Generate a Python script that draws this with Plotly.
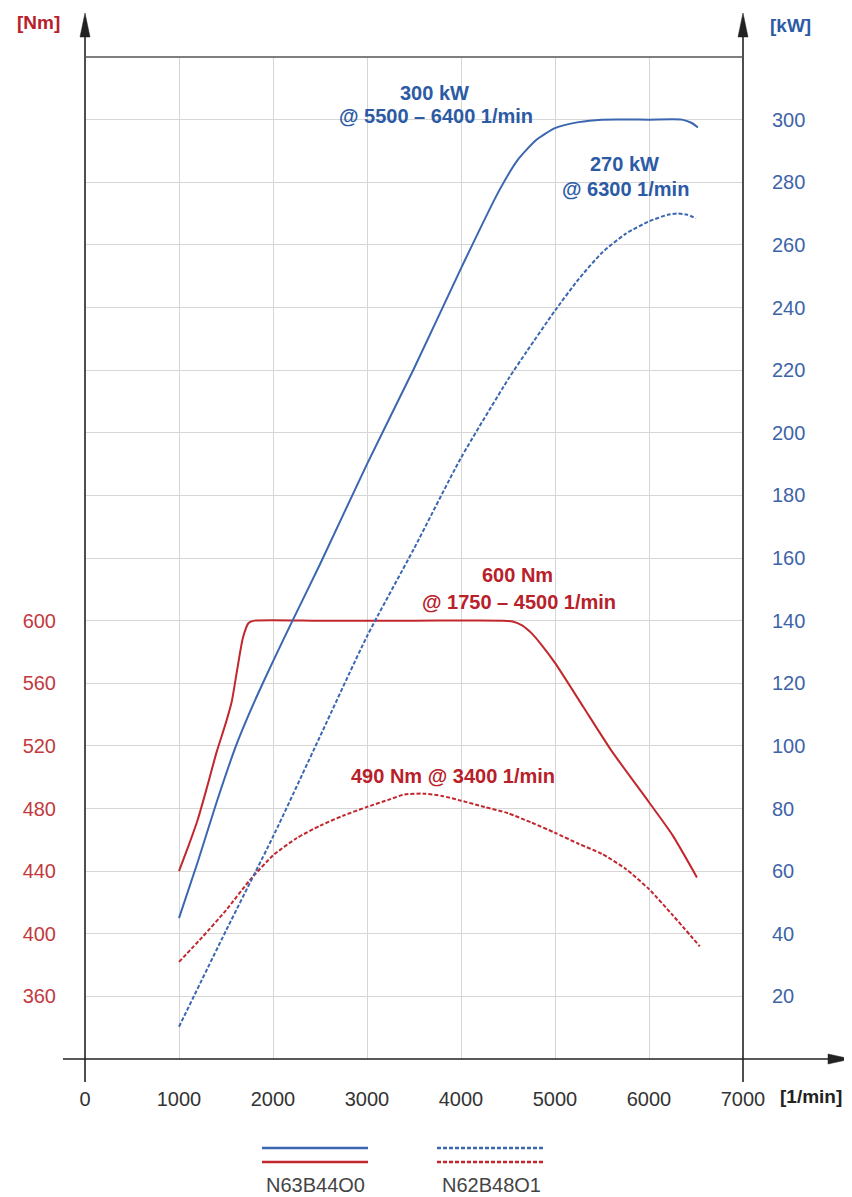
import plotly.graph_objects as go

# ---------------- data ----------------
rpm_tq_a = [1000, 1100, 1200, 1300, 1400, 1500, 1560, 1620, 1680, 1740, 1800, 2500, 3500,
            4450, 4550, 4650, 4750, 4850, 5000, 5300, 5600, 6000, 6250, 6510]
tq_a = [440, 456, 473, 494, 516, 535, 548, 569, 589, 598.5, 600, 600, 600,
        600, 599.5, 597, 592, 585, 573, 545, 517, 484, 463, 436]

rpm_pw_a = [1000, 1200, 1400, 1600, 1700, 1800, 2000, 2200, 2500, 3000, 3500, 4000, 4400, 4600,
            4800, 5000, 5250, 5500, 6000, 6350, 6450, 6520]
pw_a = [45, 63, 82, 99.5, 107, 114, 127, 139.5, 158, 190, 220.5, 252.5, 277, 287,
        293.5, 297.3, 299.2, 300, 300, 300, 299, 297.5]

rpm_tq_b = [1000, 1250, 1500, 1750, 2000, 2250, 2500, 2750, 3000, 3250, 3400, 3600, 3800,
            4000, 4250, 4500, 4750, 5000, 5250, 5500, 5750, 6000, 6250, 6540]
tq_b = [382, 398, 415, 434, 450, 461, 469, 475.5, 481, 486, 489, 489.5, 488,
        485, 481, 477, 471, 464.5, 457.5, 451, 441.5, 428.5, 412, 392]

rpm_pw_b = [1000, 1500, 2000, 2500, 3000, 3500, 4000, 4500, 4700, 5000, 5250, 5500, 5750,
            6000, 6200, 6300, 6400, 6500]
pw_b = [10.3, 41, 71, 103, 135, 163, 192, 217, 226, 239, 249, 257.5, 263.5,
        267.5, 269.6, 270, 269.7, 268.5]

x_ticks = [0, 1000, 2000, 3000, 4000, 5000, 6000, 7000]
nm_ticks = [360, 400, 440, 480, 520, 560, 600]
kw_ticks = [20, 40, 60, 80, 100, 120, 140, 160, 180, 200, 220, 240, 260, 280, 300]
engines = ["N63B44O0", "N62B48O1"]

RED = "#c1272d"
BLUE = "#3b66b0"
RED_T = "#c23a40"
BLUE_T = "#3e64a8"
FONT = "Liberation Sans, Arial, sans-serif"

# page has an 8px body margin; compensate so the plot sits where the reference has it
OFF = 8
W, H = 852 - OFF, 1197 - OFF
PL, PR, PT, PB = 85, 743, 57, 1059       # plot area in window pixels
L, T = PL - OFF, PT - OFF
PW, PH = PR - PL, PB - PT
R = W - L - PW
B = H - T - PH


def xp(px):
    return (px - PL) / PW


def yp(py):
    return (PB - py) / PH


fig = go.Figure()
fig.add_trace(go.Scatter(x=rpm_pw_a, y=pw_a, yaxis="y2", mode="lines",
                         line=dict(color=BLUE, width=2, shape="spline", smoothing=0.6),
                         name=engines[0], showlegend=False))
fig.add_trace(go.Scatter(x=rpm_pw_b, y=pw_b, yaxis="y2", mode="lines",
                         line=dict(color=BLUE, width=2, dash="4px,2px", shape="spline", smoothing=0.6),
                         name=engines[1], showlegend=False))
fig.add_trace(go.Scatter(x=rpm_tq_a, y=tq_a, yaxis="y", mode="lines",
                         line=dict(color=RED, width=2, shape="spline", smoothing=0.6),
                         name=engines[0], showlegend=False))
fig.add_trace(go.Scatter(x=rpm_tq_b, y=tq_b, yaxis="y", mode="lines",
                         line=dict(color=RED, width=2, dash="4px,2px", shape="spline", smoothing=0.6),
                         name=engines[1], showlegend=False))

shapes = []
AX = "#222222"
# left / right axis lines
for px in (PL, PR):
    shapes.append(dict(type="line", xref="paper", yref="paper", x0=xp(px), x1=xp(px),
                       y0=yp(1082), y1=yp(30), line=dict(color=AX, width=1.6), layer="above"))
    shapes.append(dict(type="path", xref="paper", yref="paper",
                       path=f"M {xp(px-5)} {yp(37)} L {xp(px)} {yp(13)} L {xp(px+5)} {yp(37)} Z",
                       fillcolor=AX, line=dict(color=AX, width=0.5), layer="above"))
# x axis line
shapes.append(dict(type="line", xref="paper", yref="paper", x0=xp(63), x1=xp(832),
                   y0=yp(PB), y1=yp(PB), line=dict(color=AX, width=1.6), layer="above"))
shapes.append(dict(type="path", xref="paper", yref="paper",
                   path=f"M {xp(828)} {yp(1054)} L {xp(851)} {yp(1059)} L {xp(828)} {yp(1064)} Z",
                   fillcolor=AX, line=dict(color=AX, width=0.5), layer="above"))
# top border
shapes.append(dict(type="line", xref="paper", yref="paper", x0=xp(PL), x1=xp(PR),
                   y0=yp(PT), y1=yp(PT), line=dict(color="#555555", width=1.4), layer="above"))
# legend lines
for x0, x1, dash in [(262, 368, "solid"), (437, 545, "4px,2px")]:
    shapes.append(dict(type="line", xref="paper", yref="paper", x0=xp(x0), x1=xp(x1),
                       y0=yp(1148), y1=yp(1148), line=dict(color=BLUE, width=2.5, dash=dash)))
    shapes.append(dict(type="line", xref="paper", yref="paper", x0=xp(x0), x1=xp(x1),
                       y0=yp(1162), y1=yp(1162), line=dict(color=RED, width=2.5, dash=dash)))

annotations = []


def note(text, x, y, color, size=20, xanchor="center", xref="x", yref="y2", bold=True):
    annotations.append(dict(text=f"<b>{text}</b>" if bold else text, x=x, y=y, xref=xref, yref=yref,
                            showarrow=False, xanchor=xanchor, yanchor="middle",
                            font=dict(family=FONT, size=size, color=color)))


note("300 kW", 3723, 308.4, "#2c5aa5")
note("@ 5500 – 6400 1/min", 3734, 301.0, "#2c5aa5")
note("270 kW", 5734, 285.7, "#2c5aa5")
note("@ 6300 1/min", 5755, 277.7, "#2c5aa5")
note("600 Nm", 4596, 154.7, "#b8202a")
note("@ 1750 – 4500 1/min", 4617, 146.1, "#b8202a")
note("490 Nm @ 3400 1/min", 3915, 90.5, "#b8202a")

note("[Nm]", xp(38), yp(23), "#b8202a", size=19, xref="paper", yref="paper")
note("[kW]", xp(790), yp(25), "#2c5aa5", size=19, xref="paper", yref="paper")
note("[1/min]", xp(778), yp(1096), "#222222", size=19, xanchor="left", xref="paper", yref="paper")
note(engines[0], xp(315), yp(1185), "#444444", size=20, xref="paper", yref="paper", bold=False)
note(engines[1], xp(491), yp(1185), "#444444", size=20, xref="paper", yref="paper", bold=False)

fig.update_layout(
    width=W, height=H,
    margin=dict(l=L, r=R, t=T, b=B, pad=0),
    paper_bgcolor="white", plot_bgcolor="white",
    showlegend=False,
    font=dict(family=FONT),
    xaxis=dict(range=[0, 7000], tickvals=x_ticks, ticktext=[str(v) for v in x_ticks],
               ticks="outside", ticklen=22, tickcolor="rgba(0,0,0,0)",
               tickfont=dict(family=FONT, size=20, color="#333333"),
               showgrid=True, gridcolor="#d6d6d6", gridwidth=1,
               zeroline=False, showline=False, fixedrange=True),
    yaxis=dict(range=[320, 960], tickvals=nm_ticks, ticktext=[str(v) for v in nm_ticks],
               ticks="outside", ticklen=24, tickcolor="rgba(0,0,0,0)",
               tickfont=dict(family=FONT, size=20, color=RED_T),
               showgrid=False, zeroline=False, showline=False),
    yaxis2=dict(range=[0, 320], overlaying="y", side="right", tickvals=kw_ticks,
                ticktext=[str(v) for v in kw_ticks],
                ticks="outside", ticklen=24, tickcolor="rgba(0,0,0,0)",
                tickfont=dict(family=FONT, size=20, color=BLUE_T),
                showgrid=True, gridcolor="#d6d6d6", gridwidth=1,
                zeroline=False, showline=False),
    shapes=shapes,
    annotations=annotations,
)

fig.write_html("out.html")
